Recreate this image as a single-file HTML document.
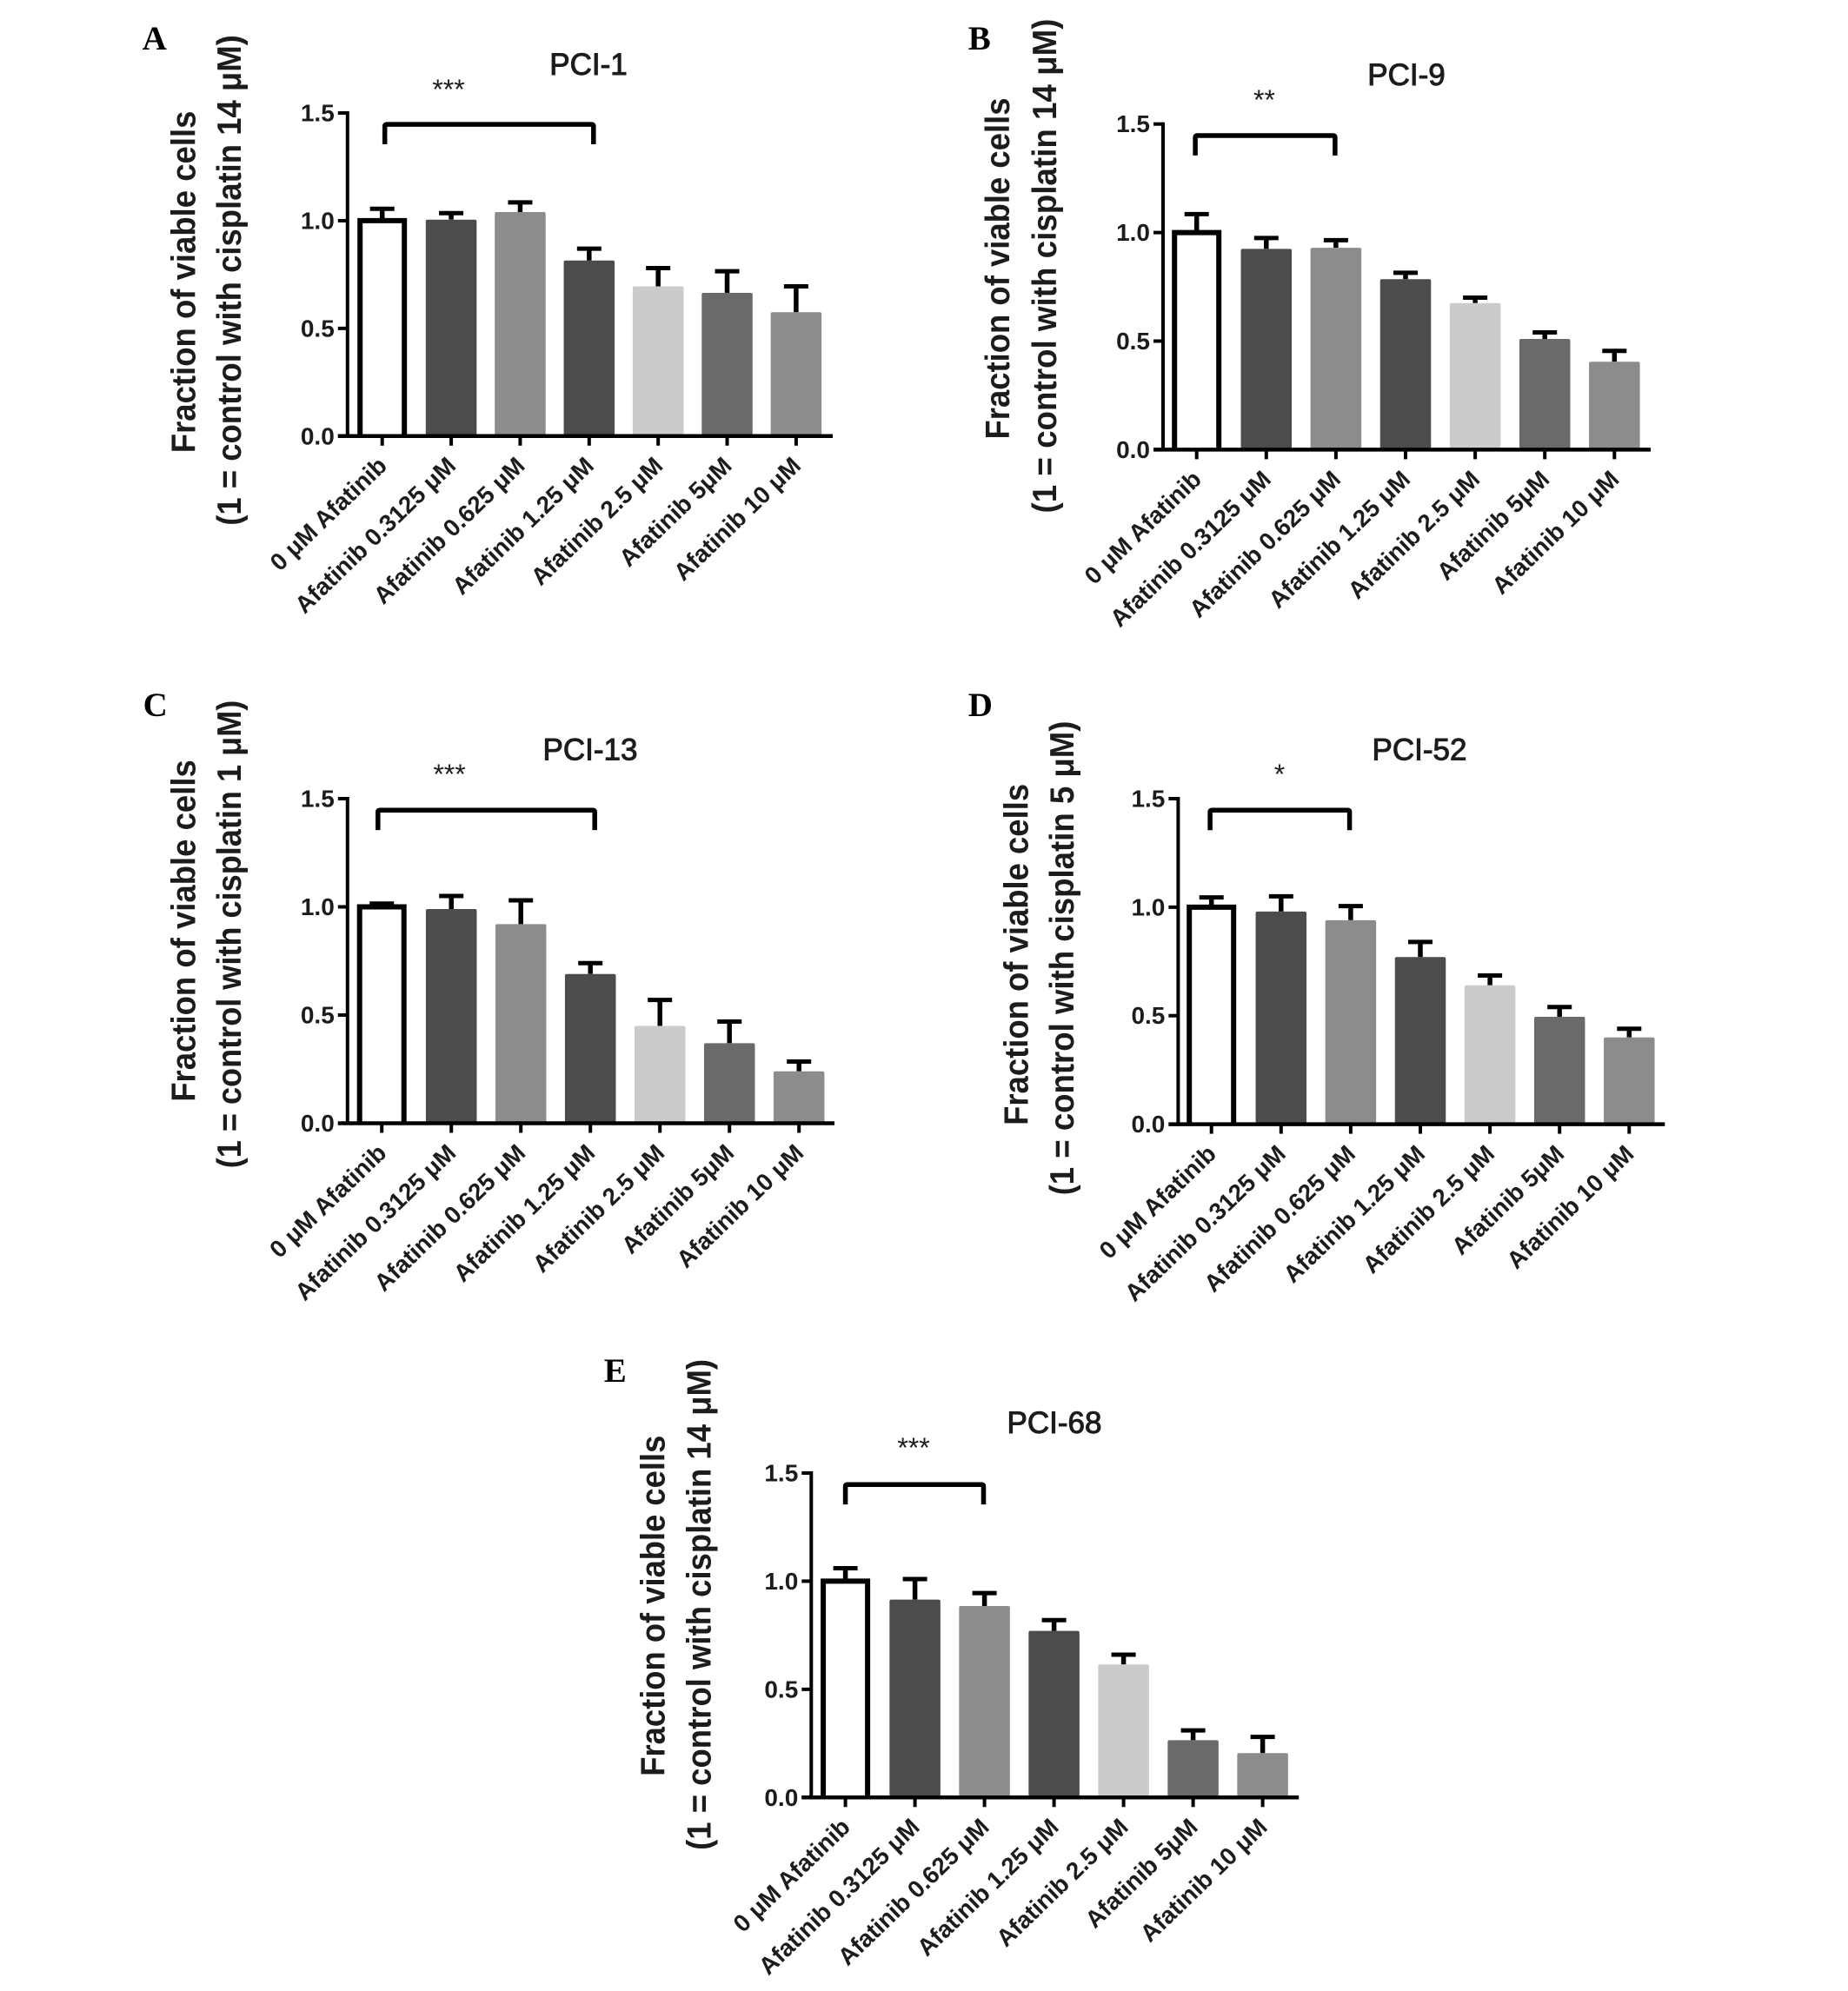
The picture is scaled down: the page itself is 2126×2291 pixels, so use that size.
<!DOCTYPE html>
<html lang="en">
<head>
<meta charset="utf-8">
<title>Fraction of viable cells by afatinib dose</title>
<style>
html,body{margin:0;padding:0;background:#fff;}
svg{display:block;}
text{fill:#1c1c1c;font-family:"Liberation Sans",sans-serif;}
.letter{font-family:"Liberation Serif",serif;font-weight:bold;font-size:39px;fill:#000;}
.title{font-size:35px;stroke:#1c1c1c;stroke-width:1px;}
.ytitle{font-weight:bold;font-size:38.5px;text-anchor:middle;}
.stars{font-size:32px;text-anchor:middle;}
.tick{font-weight:bold;font-size:28px;text-anchor:end;}
.cat{font-weight:bold;font-size:27.8px;text-anchor:end;}
</style>
</head>
<body>
<svg id="figure" xmlns="http://www.w3.org/2000/svg" width="2126" height="2291" viewBox="0 0 2126 2291">
<rect x="0" y="0" width="2126" height="2291" fill="#fff"/>

<g id="panel-a">
<text class="letter" x="163.6" y="57">A</text>
<text class="title" x="677" y="86" text-anchor="middle">PCI-1</text>
<text class="ytitle" transform="translate(224.5 324.4) rotate(-90)" textLength="393.6" lengthAdjust="spacingAndGlyphs">Fraction of viable cells</text>
<text class="ytitle" transform="translate(277 322.5) rotate(-90)" textLength="564.6" lengthAdjust="spacingAndGlyphs">(1 = control with cisplatin 14 μM)</text>
<text class="stars" x="516" y="114">***</text>
</g>

<g id="panel-b">
<text class="letter" x="1113.7" y="57">B</text>
<text class="title" x="1618" y="97.8" text-anchor="middle">PCI-9</text>
<text class="ytitle" transform="translate(1161 309) rotate(-90)" textLength="393" lengthAdjust="spacingAndGlyphs">Fraction of viable cells</text>
<text class="ytitle" transform="translate(1215 306) rotate(-90)" textLength="569" lengthAdjust="spacingAndGlyphs">(1 = control with cisplatin 14 μM)</text>
<text class="stars" x="1454.5" y="126">**</text>
</g>

<g id="panel-c">
<text class="letter" x="164.6" y="824">C</text>
<text class="title" x="679" y="874.5" text-anchor="middle">PCI-13</text>
<text class="ytitle" transform="translate(224.5 1071) rotate(-90)" textLength="393.6" lengthAdjust="spacingAndGlyphs">Fraction of viable cells</text>
<text class="ytitle" transform="translate(277 1075) rotate(-90)" textLength="538.6" lengthAdjust="spacingAndGlyphs">(1 = control with cisplatin 1 μM)</text>
<text class="stars" x="517" y="902">***</text>
</g>

<g id="panel-d">
<text class="letter" x="1113.7" y="824">D</text>
<text class="title" x="1633" y="874.5" text-anchor="middle">PCI-52</text>
<text class="ytitle" transform="translate(1182.5 1098.4) rotate(-90)" textLength="393" lengthAdjust="spacingAndGlyphs">Fraction of viable cells</text>
<text class="ytitle" transform="translate(1235 1102.5) rotate(-90)" textLength="545.8" lengthAdjust="spacingAndGlyphs">(1 = control with cisplatin  5 μM)</text>
<text class="stars" x="1472" y="902">*</text>
</g>

<g id="panel-e">
<text class="letter" x="694.8" y="1590">E</text>
<text class="title" x="1213" y="1649.2" text-anchor="middle">PCI-68</text>
<text class="ytitle" transform="translate(764.5 1847.7) rotate(-90)" textLength="392" lengthAdjust="spacingAndGlyphs">Fraction of viable cells</text>
<text class="ytitle" transform="translate(817.5 1846.4) rotate(-90)" textLength="565" lengthAdjust="spacingAndGlyphs">(1 = control with cisplatin 14 μM)</text>
<text class="stars" x="1051" y="1677">***</text>
</g>
</svg>

<script>
// Chart data
const categories = ['0 μM Afatinib', 'Afatinib 0.3125 μM', 'Afatinib 0.625 μM', 'Afatinib 1.25 μM', 'Afatinib 2.5 μM', 'Afatinib 5μM', 'Afatinib 10 μM'];
const yTickValues = [0, 0.5, 1, 1.5];
const yTickLabels = ['0.0', '0.5', '1.0', '1.5'];
const meansA = [1.0, 1.005, 1.04, 0.815, 0.695, 0.665, 0.575];
const errorsA = [0.055, 0.03, 0.045, 0.055, 0.085, 0.1, 0.12];
const meansB = [1.0, 0.925, 0.93, 0.785, 0.675, 0.51, 0.405];
const errorsB = [0.085, 0.05, 0.035, 0.03, 0.025, 0.03, 0.05];
const meansC = [1.0, 0.99, 0.92, 0.69, 0.45, 0.37, 0.24];
const errorsC = [0.015, 0.06, 0.11, 0.05, 0.12, 0.10, 0.045];
const meansD = [1.0, 0.98, 0.94, 0.77, 0.64, 0.495, 0.40];
const errorsD = [0.045, 0.07, 0.065, 0.07, 0.045, 0.045, 0.04];
const meansE = [1.0, 0.915, 0.885, 0.77, 0.615, 0.265, 0.205];
const errorsE = [0.06, 0.095, 0.06, 0.05, 0.045, 0.045, 0.075];
const comparisonEndA = 3;
const comparisonEndB = 2;
const comparisonEndC = 3;
const comparisonEndD = 2;
const comparisonEndE = 2;

const SVG_NS = 'http://www.w3.org/2000/svg';
const barFills = ['#ffffff', '#4c4c4c', '#8c8c8c', '#4c4c4c', '#cbcbcb', '#6a6a6a', '#8c8c8c'];

function mk(tag, attrs, parent) {
  const el = document.createElementNS(SVG_NS, tag);
  for (const k in attrs) { el.setAttribute(k, attrs[k]); }
  parent.appendChild(el);
  return el;
}

function drawPanel(id, frame, means, errors, comparisonEnd) {
  const root = document.getElementById(id);
  const xOf = function (i) { return frame.first + i * (frame.last - frame.first) / (categories.length - 1); };
  const yOf = function (v) { return frame.base - v * (frame.base - frame.top) / 1.5; };
  const barW = 58.5;

  means.forEach(function (m, i) {
    const cx = xOf(i);
    const top = yOf(m);
    const errTop = yOf(m + errors[i]);
    const whisker = mk('line', { x1: cx, x2: cx, y1: top, y2: errTop, stroke: '#000', 'stroke-width': 5.5 }, root);
    
    
    const cap = mk('line', { x1: cx - 14, x2: cx + 14, y1: errTop, y2: errTop, stroke: '#000', 'stroke-width': 5 }, root);
    
    
    let bar;
    if (i === 0) {
      bar = mk('path', { d: 'M' + (cx - 25.5) + ' ' + frame.base + 'V' + top + 'H' + (cx + 25.5) + 'V' + frame.base, fill: barFills[i], stroke: '#000', 'stroke-width': 6 }, root);
    } else {
      bar = mk('rect', { x: cx - barW / 2, y: top, width: barW, height: frame.base - top, fill: barFills[i], rx: 2 }, root);
    }
    
    

    const tick = mk('line', { x1: cx, x2: cx, y1: frame.base, y2: frame.base + 11, stroke: '#000', 'stroke-width': 4 }, root);
    
    
    const ax = cx + 7;
    const ay = frame.base + 36;
    const label = mk('text', { class: 'cat', x: ax, y: ay, transform: 'rotate(-44 ' + ax + ' ' + ay + ')' }, root);
    
    
    label.textContent = categories[i];
  });

  yTickValues.forEach(function (v, i) {
    const y = yOf(v);
    const tick = mk('line', { x1: frame.axis - 11, x2: frame.axis, y1: y, y2: y, stroke: '#000', 'stroke-width': 4 }, root);
    
    
    const label = mk('text', { class: 'tick', x: frame.axis - 15, y: y + 9.5 }, root);
    
    
    label.textContent = yTickLabels[i];
  });

  const yAxis = mk('line', { x1: frame.axis, x2: frame.axis, y1: frame.top - 2, y2: frame.base + 2, stroke: '#000', 'stroke-width': 4 }, root);
  
  
  const xAxis = mk('line', { x1: frame.axis - 11, x2: frame.end, y1: frame.base, y2: frame.base, stroke: '#000', 'stroke-width': 4.5 }, root);
  
  

  const bx1 = xOf(0) + frame.bracketLeft;
  const bx2 = xOf(comparisonEnd) + frame.bracketRight;
  const bt = yOf(1.447);
  const bb = yOf(1.355);
  const bracket = mk('path', {
    d: 'M' + bx1 + ' ' + bb + 'V' + (bt + 2) + 'Q' + bx1 + ' ' + bt + ' ' + (bx1 + 2) + ' ' + bt + 'H' + (bx2 - 2) + 'Q' + bx2 + ' ' + bt + ' ' + bx2 + ' ' + (bt + 2) + 'V' + bb,
    fill: 'none', stroke: '#000', 'stroke-width': 5.5
  }, root);
  
  
}

drawPanel('panel-a', { axis: 399.8, end: 958, first: 439.7, last: 915.9, top: 130, base: 501.8, bracketLeft: 3, bracketRight: 5 }, meansA, errorsA, comparisonEndA);
drawPanel('panel-b', { axis: 1338, end: 1899, first: 1376.7, last: 1857.3, top: 142.7, base: 517.4, bracketLeft: -1.6, bracketRight: -1 }, meansB, errorsB, comparisonEndB);
drawPanel('panel-c', { axis: 399.8, end: 960, first: 439.2, last: 919.2, top: 919, base: 1292.5, bracketLeft: -4.4, bracketRight: 5 }, meansC, errorsC, comparisonEndC);
drawPanel('panel-d', { axis: 1355.4, end: 1915.3, first: 1393.7, last: 1874.3, top: 919, base: 1293.6, bracketLeft: -1.6, bracketRight: -1.3 }, meansD, errorsD, comparisonEndD);
drawPanel('panel-e', { axis: 933.3, end: 1494.2, first: 972.6, last: 1452.6, top: 1695, base: 2068.3, bracketLeft: 0, bracketRight: -1.1 }, meansE, errorsE, comparisonEndE);
</script>
</body>
</html>
